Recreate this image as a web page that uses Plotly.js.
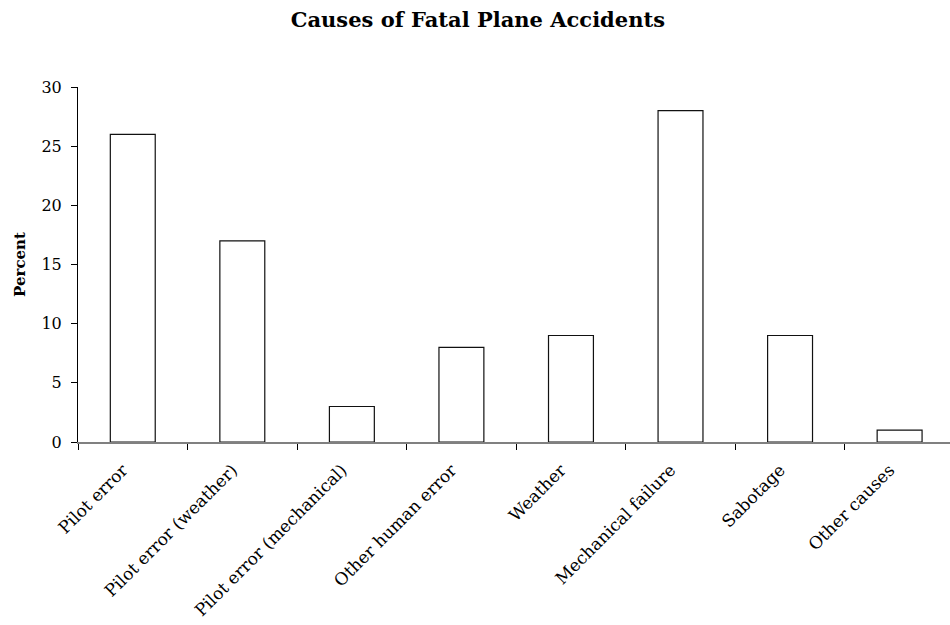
<!DOCTYPE html>
<html>
<head>
<meta charset="utf-8">
<script src="https://cdn.plot.ly/plotly-3.0.1.min.js"></script>
<style>html,body{margin:0;padding:0;background:#fff;overflow:hidden}</style>
</head>
<body>
<div id="chart" style="width:950px;height:625px"></div>
<script>
const categories = ["Pilot error", "Pilot error (weather)", "Pilot error (mechanical)", "Other human error", "Weather", "Mechanical failure", "Sabotage", "Other causes"];
const percents = [26, 17, 3, 8, 9, 28, 9, 1];
const yTicks = [0, 5, 10, 15, 20, 25, 30];

const FONT = "DejaVu Serif, Liberation Serif, serif";

Plotly.newPlot("chart", [{
  type: "bar",
  x: categories,
  y: percents,
  marker: {color: "#ffffff", line: {color: "#111111", width: 1.2}},
  hoverinfo: "skip"
}], {
  width: 950, height: 625,
  margin: {l: 78, r: 0, t: 87, b: 183},
  paper_bgcolor: "#fff", plot_bgcolor: "#fff",
  bargap: 0.59,
  showlegend: false,
  font: {family: FONT, size: 16, color: "#000"},
  title: {text: "<b>Causes of Fatal Plane Accidents</b>", x: 0.503, xref: "container", xanchor: "center",
          y: 0.968, yref: "container", yanchor: "middle",
          font: {family: FONT, size: 21, color: "#000"}},
  xaxis: {
    type: "category",
    range: [-0.5, 7.46],
    tickangle: -45,
    tickson: "boundaries",
    ticks: "outside", ticklen: 6, tickcolor: "#000", tickwidth: 1,
    ticklabelstandoff: 10,
    ticklabelshift: -10,
    showline: true, linecolor: "#808080", linewidth: 1.5,
    showgrid: false, zeroline: false,
    tickfont: {family: FONT, size: 17, color: "#000"}
  },
  yaxis: {
    range: [0, 30],
    tickvals: yTicks,
    ticks: "outside", ticklen: 6, tickcolor: "#000", tickwidth: 1,
    ticklabelstandoff: 6,
    showline: true, linecolor: "#000", linewidth: 1,
    showgrid: false, zeroline: false,
    tickfont: {family: FONT, size: 16, color: "#000"},
    title: {text: "<b>Percent</b>", standoff: 12, font: {family: FONT, size: 15, color: "#000"}}
  }
}, {staticPlot: true, displayModeBar: false});
</script>
</body>
</html>
